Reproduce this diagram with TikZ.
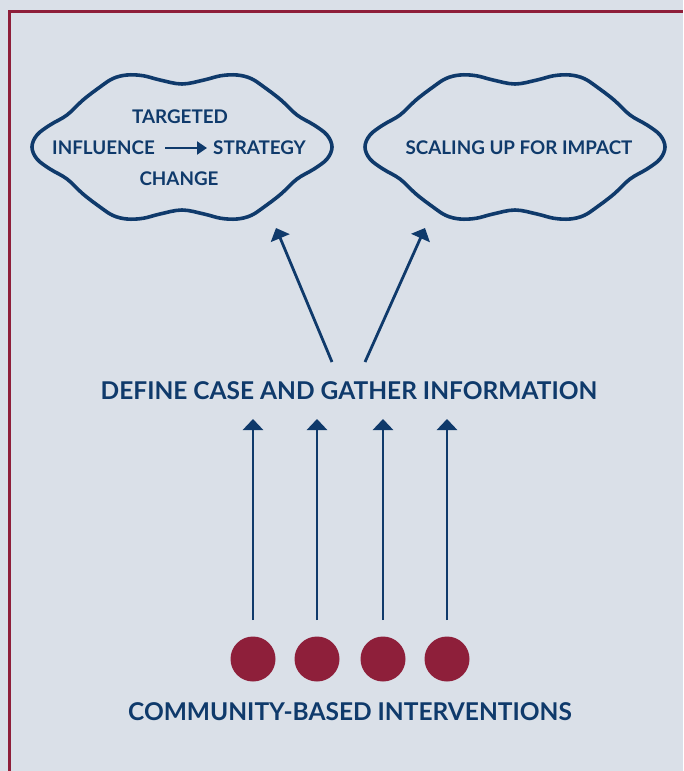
\documentclass[tikz,border=0pt]{standalone}
\usepackage{fontspec}
\setmainfont{Lato}
\usetikzlibrary{arrows.meta}
\definecolor{bgc}{HTML}{DAE0E8}
\definecolor{navy}{HTML}{0F3A6B}
\definecolor{wine}{HTML}{8E1F3A}
\tikzset{
  lbl/.style={font=\bfseries, text=navy, inner sep=0pt},
  big/.style={lbl, font=\fontsize{24.5}{28}\selectfont\bfseries},
  small/.style={lbl, font=\fontsize{18.8}{22}\selectfont\bfseries},
  cloudline/.style={draw=navy, line width=3.6pt},
  uparrow/.style={draw=navy, line width=2.8pt, -{Triangle[width=20pt,length=11pt]}},
  dot/.style={circle, fill=wine, minimum size=45pt, inner sep=0pt},
}
\newcommand{\cloudpath}{plot[smooth cycle, tension=0.6] coordinates {
 (-150,0) (-145,-12) (-132,-22) (-115,-32) (-99,-47) (-82,-60) (-69,-68.5) (-55,-72) (-39,-71.3) (-22,-67) (0,-63)
 (22,-67) (39,-71.3) (55,-72) (69,-68.5) (82,-60) (99,-47) (115,-32) (132,-22) (145,-12)
 (150,0) (145,12) (132,22) (115,32) (99,47) (82,60) (69,68.5) (55,72) (39,71.3) (22,67) (0,63)
 (-22,67) (-39,71.3) (-55,72) (-69,68.5) (-82,60) (-99,47) (-115,32) (-132,22) (-145,12)}}
\begin{document}
\begin{tikzpicture}[x=1pt, y=-1pt]
\fill[bgc] (0,0) rectangle (683,771);
\useasboundingbox (0,0) rectangle (683,771);
% border
\draw[wine, line width=3pt] (9.5,771) -- (9.5,11.5) -- (683,11.5);
% clouds
\draw[cloudline, shift={(182,147)}] \cloudpath;
\draw[cloudline, shift={(515,147)}] \cloudpath;
% cloud texts
\node[small] (targeted) at (180,117) {TARGETED};
\node[small, anchor=east] (influence) at (155,148) {INFLUENCE};
\node[small, anchor=west] (strategy) at (213,148) {STRATEGY};
\node[small] (change) at (179,179) {CHANGE};
\node[small] (scaling) at (519,148) {SCALING UP FOR IMPACT};
\draw[navy, line width=2.2pt, -{Triangle[width=13pt,length=10pt]}, shorten <=10pt, shorten >=6pt] (influence.east) -- (strategy.west);
% middle label
\node[big] (define) at (349,391) {DEFINE CASE AND GATHER INFORMATION};
\node[big] (community) at (350,712) {COMMUNITY-BASED INTERVENTIONS};
% dots
\foreach \i/\x in {1/253,2/317,3/383,4/447}{
  \node[dot] (d\i) at (\x,659) {};
  \coordinate (t\i) at (\x,620);
  \coordinate (h\i) at (\x,419);
  \draw[uparrow] (t\i) -- (h\i);
}
% diagonal arrows
\coordinate (la) at (332,362);
\coordinate (lb) at (276,228);
\coordinate (ra) at (365,362);
\coordinate (rb) at (425,228);
\draw[uparrow] (la) -- (lb);
\draw[uparrow] (ra) -- (rb);
\end{tikzpicture}
\end{document}
